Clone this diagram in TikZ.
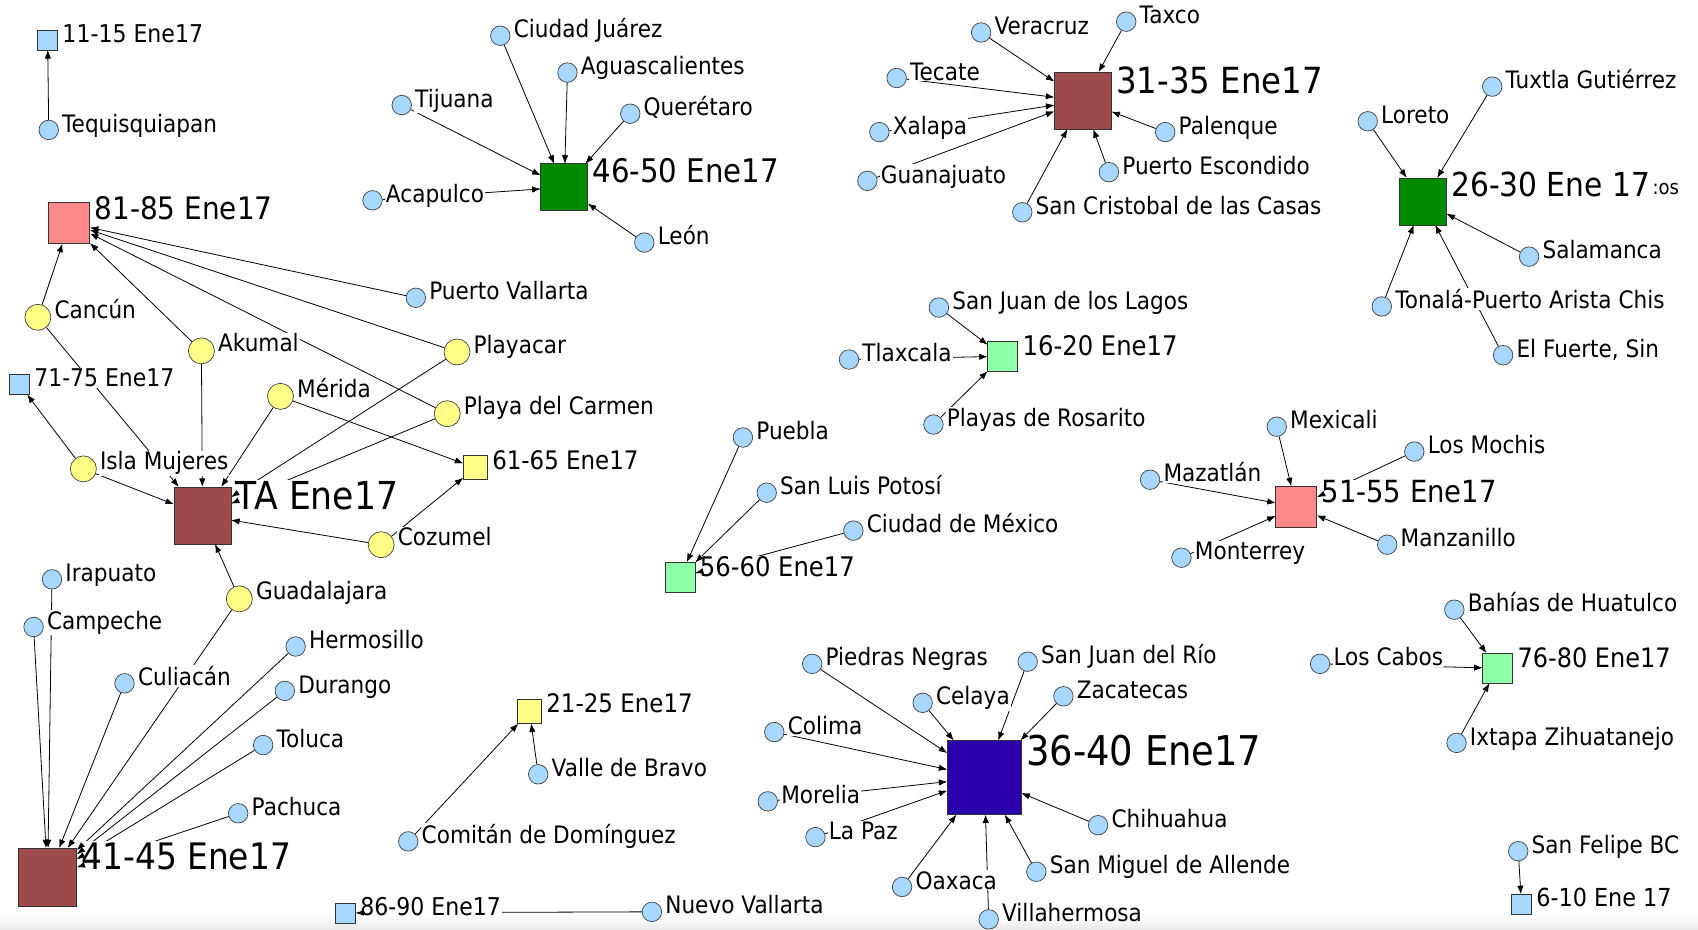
\documentclass[tikz,border=0pt]{standalone}
\usepackage{fontspec}
\setmainfont{DejaVu Sans}[FakeStretch=0.9]
\usetikzlibrary{arrows.meta,decorations.markings}

\definecolor{cityblue}{HTML}{A8D8FF}
\definecolor{beachyellow}{HTML}{FFFF88}
\definecolor{pinkbox}{HTML}{FF8888}
\definecolor{brownbox}{HTML}{9C4A4A}
\definecolor{greenbox}{HTML}{008C00}
\definecolor{mintbox}{HTML}{8FFFAA}
\definecolor{indigobox}{HTML}{2A00AA}

% destinations: name / x / y / label
\def\bluecities{
 tequis/45/120/Tequisquiapan,
 cjuarez/462/33/Ciudad Juárez,
 aguas/524/67/Aguascalientes,
 quere/582/105/Querétaro,
 tijuana/371/97/Tijuana,
 acapulco/344/185/Acapulco,
 leon/595/224/León,
 pvallarta/384/275/Puerto Vallarta,
 irapuato/48/535/Irapuato,
 campeche/31/579/Campeche,
 culiacan/115/631/Culiacán,
 hermosillo/273/597/Hermosillo,
 durango/263/638/Durango,
 toluca/243/688/Toluca,
 pachuca/220/751/Pachuca,
 valle/497/715/Valle de Bravo,
 comitan/377/777/Comitán de Domínguez,
 nvallarta/602/842/Nuevo Vallarta,
 veracruz/906/30/Veracruz,
 taxco/1040/20/Taxco,
 tecate/828/72/Tecate,
 xalapa/812/122/Xalapa,
 guanajuato/801/167/Guanajuato,
 palenque/1076/122/Palenque,
 pescondido/1024/159/Puerto Escondido,
 scristobal/944/196/San Cristobal de las Casas,
 loreto/1263/112/Loreto,
 tuxtla/1378/80/Tuxtla Gutiérrez,
 salamanca/1412/237/Salamanca,
 tonala/1276/283/Tonalá-Puerto Arista Chis,
 elfuerte/1388/328/{El Fuerte, Sin},
 sjlagos/867/284/San Juan de los Lagos,
 tlaxcala/784/332/Tlaxcala,
 rosarito/862/392/Playas de Rosarito,
 puebla/686/404/Puebla,
 slp/708/455/San Luis Potosí,
 cdmx/788/490/Ciudad de México,
 mexicali/1179/394/Mexicali,
 mochis/1306/417/Los Mochis,
 mazatlan/1062/443/Mazatlán,
 monterrey/1091/515/Monterrey,
 manzanillo/1281/503/Manzanillo,
 huatulco/1343/563/Bahías de Huatulco,
 loscabos/1219/613/Los Cabos,
 ixtapa/1345/686/Ixtapa Zihuatanejo,
 sfelipe/1402/786/San Felipe BC,
 piedras/750/613/Piedras Negras,
 sjrio/949/611/San Juan del Río,
 celaya/852/649/Celaya,
 zacatecas/982/643/Zacatecas,
 colima/715/676/Colima,
 morelia/709/740/Morelia,
 lapaz/753/773/La Paz,
 chihuahua/1014/762/Chihuahua,
 smiguel/957/805/San Miguel de Allende,
 oaxaca/833/819/Oaxaca,
 villahermosa/913/849/Villahermosa}

% Caribbean / Yucatan destinations
\def\beachcities{
 cancun/35/293/Cancún,
 akumal/186/324/Akumal,
 playacar/422/325/Playacar,
 merida/259/366/Mérida,
 pcarmen/413/382/Playa del Carmen,
 isla/77/433/Isla Mujeres,
 cozumel/352/503/Cozumel,
 guadalajara/221/553/Guadalajara}

% periods: name / x / y / size (pt) / colour / font size (pt) / label
\def\periods{
 s1115/44/37/20/cityblue/24.5/11-15 Ene17,
 s4650/521/173/47/greenbox/32.5/46-50 Ene17,
 s8185/64/206/41/pinkbox/31/81-85 Ene17,
 s7175/18/355/20/cityblue/24.4/71-75 Ene17,
 sTA/187/476/57/brownbox/38.5/TA Ene17,
 s6165/439/432/24/beachyellow/25.5/61-65 Ene17,
 s4145/44/810/58/brownbox/36.5/41-45 Ene17,
 s2125/489/657/24/beachyellow/25.5/21-25 Ene17,
 s8690/319/843/20/cityblue/24.5/86-90 Ene17,
 s3135/1000/93/57/brownbox/36/31-35 Ene17,
 s2630/1314/186/47/greenbox/33/26-30 Ene 17,
 s1620/926/329/30/mintbox/27/16-20 Ene17,
 s5660/628/533/30/mintbox/27/56-60 Ene17,
 s5155/1197/468/41/pinkbox/30.5/51-55 Ene17,
 s3640/909/718/74/indigobox/41/36-40 Ene17,
 s7680/1383/617/30/mintbox/26.7/76-80 Ene17,
 s0610/1405/835/20/cityblue/24.8/6-10 Ene 17}

% links: destination / period
\def\links{
 tequis/s1115,
 cjuarez/s4650, aguas/s4650, quere/s4650, tijuana/s4650, acapulco/s4650, leon/s4650,
 cancun/s8185, akumal/s8185, pvallarta/s8185, playacar/s8185, pcarmen/s8185,
 isla/s7175,
 cancun/sTA, isla/sTA, akumal/sTA, merida/sTA, playacar/sTA, pcarmen/sTA, cozumel/sTA, guadalajara/sTA,
 merida/s6165, cozumel/s6165,
 guadalajara/s4145, irapuato/s4145, campeche/s4145, culiacan/s4145, hermosillo/s4145,
 durango/s4145, toluca/s4145, pachuca/s4145,
 comitan/s2125, valle/s2125,
 nvallarta/s8690,
 veracruz/s3135, taxco/s3135, tecate/s3135, xalapa/s3135, guanajuato/s3135,
 palenque/s3135, pescondido/s3135, scristobal/s3135,
 loreto/s2630, tuxtla/s2630, salamanca/s2630, tonala/s2630, elfuerte/s2630,
 sjlagos/s1620, tlaxcala/s1620, rosarito/s1620,
 puebla/s5660, slp/s5660, cdmx/s5660,
 mexicali/s5155, mochis/s5155, mazatlan/s5155, monterrey/s5155, manzanillo/s5155,
 huatulco/s7680, loscabos/s7680, ixtapa/s7680,
 sfelipe/s0610,
 piedras/s3640, sjrio/s3640, celaya/s3640, zacatecas/s3640, colima/s3640, morelia/s3640,
 lapaz/s3640, chihuahua/s3640, smiguel/s3640, oaxaca/s3640, villahermosa/s3640}

\begin{document}
\begin{tikzpicture}[x=1.0829pt, y=-1.0829pt,
  city/.style={circle, draw=black!75, line width=0.7pt, fill=cityblue, minimum size=19.5pt, inner sep=0pt},
  beach/.style={city, fill=beachyellow, minimum size=26pt},
  period/.style={rectangle, draw=black!80, line width=0.8pt, inner sep=0pt},
  citylabel/.style={anchor=base west, inner sep=1pt, fill=white, font=\fontsize{24}{28}\selectfont},
  periodlabel/.style={anchor=north west, inner sep=1pt, fill=white},
  link/.style={line width=0.8pt, -{Latex[length=8pt,width=6pt]}},
  linktip/.style={decoration={markings, mark=at position 1 with {\arrow[line width=0.8pt]{Latex[length=8pt,width=6pt]}}}, decorate},
]
\useasboundingbox (0,0) rectangle (1568,858);
\shade[top color=white, bottom color=black!8] (0,844) rectangle (1568,858);

% shapes
\foreach \nm/\px/\py/\txt in \bluecities {\node[city] (\nm) at (\px,\py) {};}
\foreach \nm/\px/\py/\txt in \beachcities {\node[beach] (\nm) at (\px,\py) {};}
\foreach \nm/\px/\py/\sz/\col/\fs/\txt in \periods {\node[period, fill=\col, minimum size=\sz pt] (\nm) at (\px,\py) {};}

% connectors
\foreach \a/\b in \links {\draw[link] (\a) -- (\b);}

% labels on white ground, over the connectors
\foreach \nm/\px/\py/\txt in \bluecities {\node[citylabel] (\nm-l) at ([shift={(2,2)}]\nm.east) {\txt};}
\foreach \nm/\px/\py/\txt in \beachcities {\node[citylabel] (\nm-l) at ([shift={(2,1)}]\nm.east) {\txt};}
\foreach \nm/\px/\py/\sz/\col/\fs/\txt in \periods {\node[periodlabel, font=\fontsize{\fs}{\fs}\selectfont] (\nm-l) at ([shift={(3,-6)}]\nm.north east) {\txt};}
\node[anchor=base west, inner sep=0pt, font=\fontsize{20}{22}\selectfont] (s2630-x) at ([shift={(1,-2)}]s2630-l.base east) {:os};

% arrow heads stay on top of the labels
\foreach \a/\b in \links {\path[linktip] (\a) -- (\b);}
\end{tikzpicture}
\end{document}
